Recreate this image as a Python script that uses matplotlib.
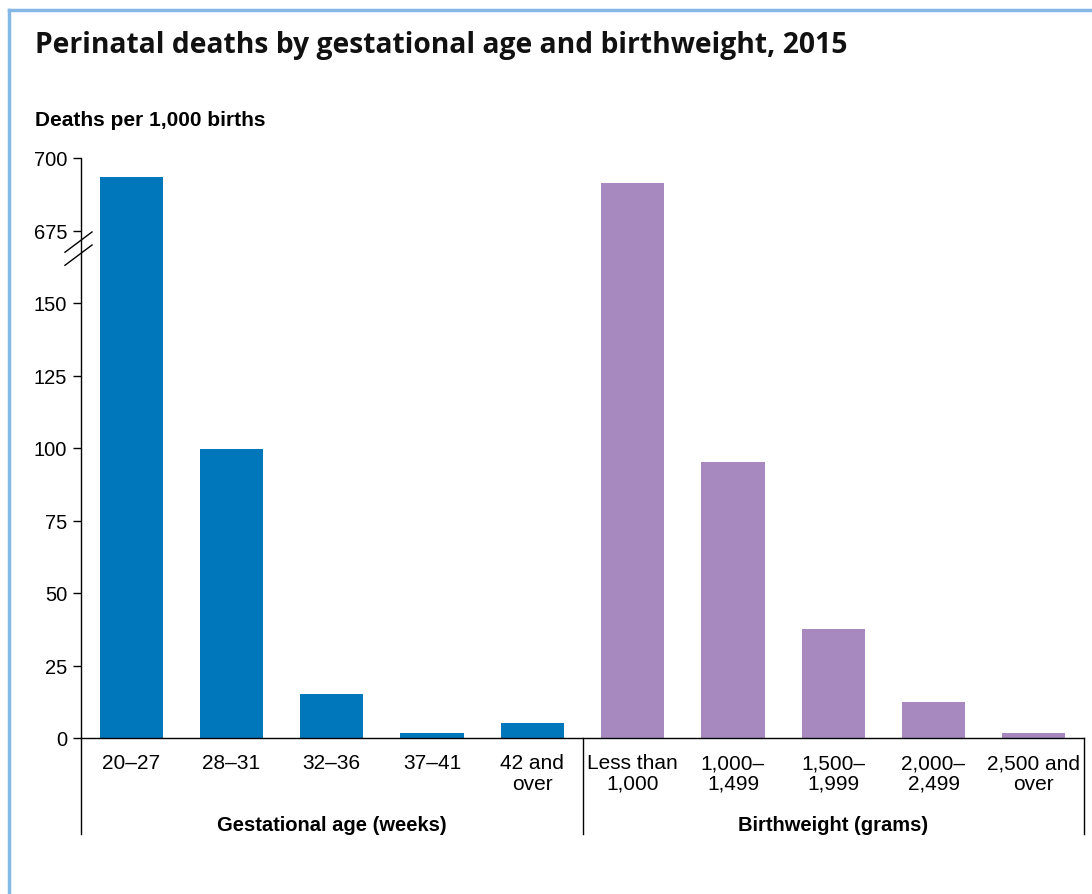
import matplotlib
matplotlib.use("Agg")
import matplotlib.pyplot as plt
import numpy as np

# data
gest_labels = ["20\u201327", "28\u201331", "32\u201336", "37\u201341", "42 and\nover"]
gest_values = [693.3, 99.7, 15.1, 1.6, 5.1]
bw_labels = ["Less than\n1,000", "1,000\u2013\n1,499", "1,500\u2013\n1,999",
             "2,000\u2013\n2,499", "2,500 and\nover"]
bw_values = [691.5, 95.3, 37.5, 12.4, 1.6]
group_names = ["Gestational age (weeks)", "Birthweight (grams)"]
ytick_values = [0, 25, 50, 75, 100, 125, 150, 675, 700]

BREAK_SHIFT = 500  # values above the break are drawn 500 lower


def to_display(v):
    return v - BREAK_SHIFT if v > 400 else v


plt.rcParams['font.family'] = ['Liberation Sans', 'DejaVu Sans']

fig = plt.figure(figsize=(10.92, 8.95), dpi=100)
ax = fig.add_axes([81 / 1092, 1 - 739 / 895, (1084 - 81) / 1092, (739 - 159) / 895])

n1 = len(gest_values)
x1 = np.arange(n1)
x2 = np.arange(len(bw_values)) + n1
ax.bar(x1, [to_display(v) for v in gest_values], width=0.63, color="#0077bb")
ax.bar(x2, [to_display(v) for v in bw_values], width=0.63, color="#a789c0")

ax.set_xlim(-0.5, n1 + len(bw_values) - 0.5)
ax.set_ylim(0, 200)
ax.set_yticks([to_display(v) for v in ytick_values])
ax.set_yticklabels([str(v) for v in ytick_values])
ax.set_xticks(list(x1) + list(x2))
ax.set_xticklabels(gest_labels + bw_labels, fontsize=15, linespacing=1.1)
ax.tick_params(axis='y', labelsize=14.5, length=6, width=1, direction='out', pad=4)
ax.tick_params(axis='x', length=0, pad=11)

for s in ['top', 'right']:
    ax.spines[s].set_visible(False)
ax.spines['left'].set_linewidth(1)
ax.spines['bottom'].set_linewidth(1)

# group separators below the x axis
h = (835 - 739) / 580
for xs in [-0.5, n1 - 0.5, n1 + len(bw_values) - 0.5]:
    ax.plot([xs, xs], [0, -h], transform=ax.get_xaxis_transform(),
            color="black", lw=1, clip_on=False)
for i, name in enumerate(group_names):
    ax.text(i * n1 + (n1 - 1) / 2, -(826 - 739) / 580, name,
            transform=ax.get_xaxis_transform(), ha='center', va='center',
            fontsize=14.5, fontweight='bold')

# axis break marks
for yc in [166.5, 171.0]:
    ax.plot([-0.66, -0.39], [yc - 3.5, yc + 3.5], color="black", lw=1, clip_on=False)

fig.text(35 / 1092, 1 - 46 / 895, "Perinatal deaths by gestational age and birthweight, 2015",
         fontsize=20.3, family=['Open Sans', 'DejaVu Sans'], fontweight='bold',
         color="#111111", va='center', ha='left')
fig.text(35 / 1092, 1 - 120 / 895, "Deaths per 1,000 births", fontsize=15,
         fontweight='bold', va='center', ha='left')

# light blue frame
fig.add_artist(plt.Line2D([9 / 1092, 9 / 1092], [0, 1 - 11 / 895], color="#86b8e6",
                          lw=2.5, transform=fig.transFigure))
fig.add_artist(plt.Line2D([9 / 1092, 1], [1 - 11 / 895, 1 - 11 / 895], color="#86b8e6",
                          lw=2.5, transform=fig.transFigure))

fig.savefig("out.png", dpi=100)
